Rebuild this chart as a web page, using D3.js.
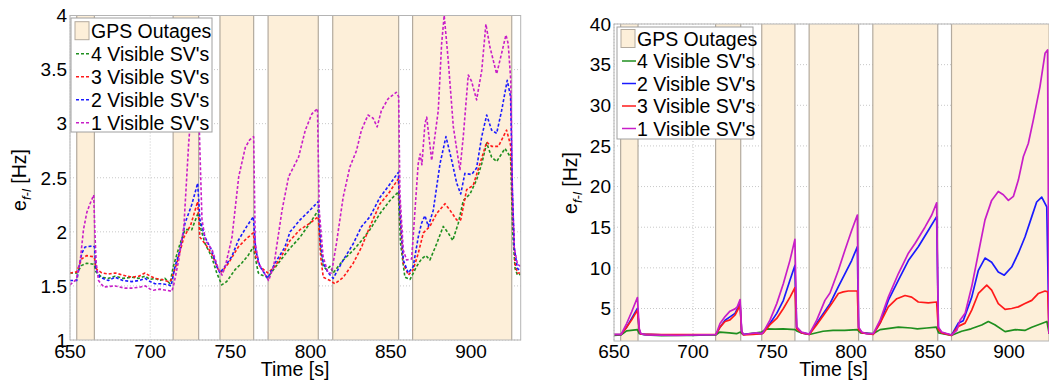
<!DOCTYPE html>
<html>
<head>
<meta charset="utf-8">
<script src="https://cdn.jsdelivr.net/npm/d3@7"></script>
<style>
  body { margin: 0; background: #fff; }
  text { font-family: "Liberation Sans", Arial, Helvetica, sans-serif; fill: #000; }
</style>
</head>
<body>
<div id="chart"></div>
<script>
// GPS outage windows [start, end] in seconds
const outages = [[654.2, 665.2], [714.3, 730.2], [743.5, 764.5], [773.5, 804.8], [813.8, 854.9], [863.6, 925.4]]

const xTicks = [650, 700, 750, 800, 850, 900]
const yTicksLeft = [1, 1.5, 2, 2.5, 3, 3.5, 4]
const yTicksRight = [5, 10, 15, 20, 25, 30, 35, 40]

const outageLabel = "GPS Outages"
const labelsLeft = ["4 Visible SV's", "3 Visible SV's", "2 Visible SV's", "1 Visible SV's"]
const labelsRight = ["4 Visible SV's", "2 Visible SV's", "3 Visible SV's", "1 Visible SV's"]

// left panel, [time, error]
const sv4Left = [[650,1.62],[654.2,1.62],[657.3,1.69],[660.4,1.71],[664.5,1.70],[665.4,1.68],[666.2,1.63],[669.8,1.58],[674,1.57],[678.1,1.59],[683,1.57],[688.5,1.58],[693,1.57],[696.8,1.59],[700,1.56],[703,1.57],[706,1.55],[709.2,1.57],[712.3,1.52],[714.4,1.68],[718.6,1.89],[721.7,2.02],[725.9,2.02],[730,2.18],[731.7,2.02],[734.2,1.89],[738.3,1.77],[741.5,1.62],[744.6,1.51],[747.7,1.54],[752.9,1.65],[757,1.71],[761,1.78],[764.3,1.86],[765.8,1.74],[767.4,1.62],[769.5,1.60],[773.3,1.58],[779.9,1.71],[786.1,1.83],[793.4,1.95],[799.6,2.08],[804.8,2.20],[806.3,1.83],[807.9,1.68],[810,1.65],[812.1,1.68],[814.1,1.62],[820.4,1.74],[826.6,1.83],[831.8,1.92],[837,2.02],[843.3,2.17],[849.5,2.29],[854.7,2.37],[856.1,1.89],[858.8,1.58],[862,1.56],[866.1,1.68],[869.2,1.75],[871.9,1.78],[874.4,1.74],[878.6,1.89],[882.7,2.05],[885.8,1.99],[888.6,1.92],[892.1,2.08],[895.2,2.29],[899.4,2.35],[903.5,2.48],[906.7,2.63],[909.8,2.82],[912.9,2.69],[916,2.65],[921.2,2.77],[924.7,2.69],[926,2.0],[927.5,1.66],[929,1.60],[931,1.61]]
const sv3Left = [[650,1.62],[654.2,1.63],[657.3,1.75],[660.3,1.78],[664.5,1.77],[665.4,1.75],[666.2,1.66],[669.8,1.62],[674,1.61],[678.1,1.62],[683,1.60],[688.5,1.58],[693,1.59],[696.8,1.62],[700,1.59],[703,1.57],[707,1.56],[711.3,1.54],[713,1.55],[716.6,1.71],[721,1.95],[725.2,2.06],[729.6,2.28],[731,1.95],[734.2,1.89],[738.3,1.80],[742.5,1.65],[744.6,1.63],[748.8,1.71],[754.9,1.86],[760.2,1.94],[764.3,1.99],[765.8,1.77],[768.4,1.68],[773.3,1.62],[777.8,1.68],[784,1.83],[787.2,1.92],[793.4,2.02],[799.6,2.08],[804.8,2.14],[806.3,1.77],[807.9,1.58],[812.1,1.55],[815.2,1.52],[820.4,1.58],[826.6,1.71],[831.8,1.86],[837,2.05],[843.3,2.26],[848.4,2.35],[854.7,2.49],[856.2,2.05],[857.8,1.71],[860.9,1.60],[864,1.65],[867.1,1.80],[870.3,1.99],[874.4,2.05],[878.6,2.17],[883.8,2.26],[886.9,2.20],[891.1,2.11],[893.6,2.11],[897.3,2.39],[901.4,2.43],[905.6,2.63],[909.8,2.83],[912.9,2.79],[917.1,2.79],[922.2,2.94],[924.7,2.80],[926,2.2],[927.5,1.70],[929,1.62],[931,1.62]]
const sv2Left = [[650,1.55],[654.2,1.55],[657.3,1.80],[659.4,1.86],[664.5,1.87],[665.3,1.86],[666.2,1.65],[668.7,1.58],[673.9,1.55],[678.1,1.58],[683,1.55],[688.5,1.54],[693,1.55],[696.8,1.57],[700,1.54],[703,1.52],[707,1.52],[711.3,1.51],[713,1.50],[715.5,1.68],[718.6,1.83],[721.7,2.08],[725.9,2.25],[729.6,2.45],[731,2.11],[734.2,1.95],[738.3,1.83],[741.5,1.68],[743.5,1.62],[746.6,1.68],[750.8,1.77],[754.9,1.92],[760.2,2.05],[764.3,2.14],[765.8,1.83],[768.4,1.68],[773.3,1.57],[777.8,1.71],[784,1.86],[787.2,2.00],[793.4,2.11],[799.6,2.20],[804.8,2.28],[806.3,1.89],[807.9,1.71],[811,1.62],[814.1,1.57],[820.4,1.74],[826.6,1.89],[831.8,2.05],[837,2.14],[843.3,2.32],[848.4,2.42],[854.7,2.55],[855.7,2.20],[857.8,1.74],[860.9,1.62],[864,1.68],[867.1,1.95],[869.2,2.08],[871.3,2.15],[873.4,2.05],[876.5,2.20],[880.7,2.63],[884.4,2.88],[888,2.66],[891.1,2.45],[893.6,2.35],[896.2,2.54],[900.4,2.53],[903.5,2.59],[906.7,2.88],[909.8,3.08],[912.9,2.94],[916,2.91],[919.1,3.12],[922.6,3.40],[924.7,3.25],[925.8,2.40],[927,1.85],[929,1.66],[931,1.64]]
const sv1Left = [[650,1.51],[654,1.56],[656.5,1.75],[658.4,2.02],[660.5,2.18],[662.5,2.26],[664.8,2.34],[665.5,2.0],[666.3,1.72],[667.8,1.55],[671,1.49],[678,1.50],[684,1.48],[689,1.48],[694,1.49],[697,1.50],[700,1.47],[702,1.46],[706,1.47],[710,1.46],[713.5,1.45],[714.8,1.52],[717.8,1.74],[721,2.05],[724,2.82],[726,3.2],[728,3.45],[729.8,3.4],[731,2.75],[732.3,2.11],[734.5,1.92],[738.7,1.83],[742.7,1.65],[744.8,1.60],[746.8,1.68],[751,1.95],[755.2,2.51],[759.3,2.78],[762,2.85],[764.5,2.88],[765.5,1.90],[767.6,1.71],[770.7,1.63],[773.8,1.55],[777,1.68],[782.2,2.20],[786.3,2.51],[792.5,2.69],[796.7,2.94],[800.8,3.09],[804.3,3.14],[805.4,2.20],[807.8,1.77],[810.9,1.62],[813,1.62],[816.1,1.89],[820.3,2.32],[824.5,2.60],[828.6,2.75],[831.7,2.94],[835.8,3.08],[839,3.05],[841.5,2.97],[844.1,3.12],[848.3,3.23],[853.4,3.29],[854.9,3.25],[855.7,2.35],[857.8,1.83],[859.9,1.74],[863,1.75],[865.1,2.20],[867.1,2.63],[868.3,2.72],[869.4,2.62],[871.3,3.0],[872.4,3.06],[875.5,2.66],[879.6,3.12],[881.7,3.74],[883.3,4.0],[885.8,3.59],[889,2.97],[893.1,2.57],[895.2,2.88],[898.3,3.45],[900.4,3.39],[903.5,3.22],[906.7,3.49],[909.3,3.92],[911.8,3.71],[916,3.46],[919.1,3.65],[921.8,3.82],[923.2,3.74],[924.8,3.4],[925.8,2.4],[927,1.85],[929,1.70],[931,1.68]]

// right panel, [time, error]
const sv4Right = [[650,1.7],[654.5,1.75],[658,2.25],[664.8,2.4],[666,1.9],[670,1.75],[680,1.65],[690,1.7],[700,1.7],[708,1.75],[714.5,1.75],[717,2.1],[723,2.0],[727.6,1.9],[730,2.1],[731.5,1.8],[736,1.9],[740,2.0],[743.5,2.1],[746.6,2.5],[752,2.45],[757,2.5],[764.6,2.4],[766,2.2],[768.7,2.0],[773.6,1.8],[782.3,2.2],[788.6,2.3],[796,2.3],[804,2.4],[806,2.0],[814,1.9],[818.4,2.4],[830,2.7],[838,2.6],[842,2.5],[848,2.6],[854,2.7],[855.5,2.0],[863.7,1.7],[870,2.2],[876,2.5],[882.7,2.97],[886.9,3.4],[891,3.0],[897.5,2.15],[904,2.4],[910,2.3],[914.4,2.7],[920.7,3.15],[924,3.4],[925.3,2.0],[931,1.8]]
const sv2Right = [[650,1.8],[654.5,1.8],[658,2.7],[661.2,3.77],[664.8,5.0],[666,2.3],[667,1.85],[680,1.75],[700,1.75],[714.5,1.8],[717.1,2.7],[720.3,3.56],[723.4,3.97],[726.6,4.4],[729.8,5.6],[730.8,2.1],[732,1.8],[738,1.9],[743.5,1.9],[744.5,2.1],[748.7,3.15],[753,4.4],[757.2,6.0],[761.4,8.5],[764.5,10.3],[765.6,2.6],[768.7,2.0],[773.6,1.85],[778.3,3.2],[786.7,5.6],[792,7.7],[796.2,9.3],[800.4,10.9],[804,12.6],[804.8,2.6],[807,2.0],[814,1.85],[818.4,3.2],[823.6,6.0],[830,8.5],[836.3,10.9],[842.6,12.6],[848.9,14.6],[854.2,16.3],[855.3,2.6],[857.4,2.0],[863.7,1.74],[867.9,3.2],[871,3.5],[876.4,6.4],[880.6,9.7],[884.8,11.2],[889,10.7],[893.2,9.5],[897,9.1],[901.7,10.1],[905.9,11.8],[910.1,13.8],[914.4,16.3],[917.5,18.1],[920.7,18.7],[923.9,17.5],[925.3,2.0],[931,1.8]]
const sv3Right = [[650,1.8],[654.5,1.8],[658,2.7],[661.2,3.6],[664.8,4.8],[666,2.3],[667,1.85],[680,1.8],[700,1.8],[714.5,1.8],[717.1,2.7],[720.3,3.4],[723.4,3.6],[726.6,4.2],[729.8,5.4],[730.8,2.1],[732,1.75],[738,1.8],[743.5,1.9],[744.5,2.0],[748.7,3.0],[753,3.77],[757.2,5.0],[761.4,6.4],[764.5,7.55],[765.6,2.5],[768.7,2.0],[773.6,1.8],[778.3,3.0],[783.5,4.4],[787.8,5.6],[792,6.85],[795.1,7.05],[798.3,7.15],[804,7.15],[804.8,2.4],[807,2.0],[814,1.8],[818.4,3.2],[823.6,5.2],[829,6.2],[834.2,6.6],[838.4,6.4],[842.6,5.8],[848.9,5.7],[854.2,5.8],[855.3,2.4],[857.4,2.0],[863.7,1.7],[867.9,2.8],[872.2,3.2],[876.4,4.8],[880.6,6.85],[885.9,7.87],[889,7.25],[893.2,5.6],[897.5,4.9],[901.7,5.0],[905.9,5.2],[910.1,5.6],[914.4,6.0],[918.6,6.85],[922.8,7.15],[924.5,7.05],[925.3,2.0],[931,1.8]]
const sv1Right = [[650,1.8],[654.5,1.8],[658,3.15],[661.2,4.6],[664.8,6.35],[666,2.5],[667,1.9],[670,1.75],[690,1.7],[714.5,1.8],[717.1,3.15],[720.3,4.0],[723.4,4.67],[726.6,4.95],[728,5.2],[729.8,6.1],[730.8,2.2],[732,1.8],[740,2.0],[743.5,1.9],[744.5,2.1],[748.7,3.56],[753,5.6],[757.2,8.08],[761.4,10.95],[764.5,13.5],[765.6,2.73],[768.7,2.1],[773.6,1.85],[778.3,3.56],[783.5,6.0],[786.7,6.9],[792,9.7],[796.2,12.2],[800.4,14.6],[804,16.5],[804.8,2.7],[806.8,2.1],[810,1.9],[814.1,1.9],[818.4,3.56],[823.6,6.4],[830,9.3],[836.3,11.8],[840.5,13.0],[846.8,15.0],[851.1,16.5],[854.2,18.0],[855.3,2.7],[857.4,2.1],[863.7,1.74],[866.9,2.3],[869,3.56],[872.2,4.4],[876.4,7.7],[880.6,11.8],[884.8,15.9],[889,18.3],[893.2,19.4],[896.4,19.0],[899.6,18.3],[902.8,18.8],[905.9,20.8],[909.1,23.7],[912.2,25.3],[915.4,28.2],[919.6,32.3],[922.8,36.4],[924.4,36.8],[925.3,2.0],[931,1.8]]

const green = "#1f8f1f", red = "#ff1a1a", blue = "#1a1aff", magenta = "#c81ec8"
const bandFill = "#fdefd9", bandEdge = "#b3aa9e"

let svg = d3.select("#chart")
    .append("svg")
    .attr("width", 1049)
    .attr("height", 381)

function drawPanel(opt) {
    let x = d3.scaleLinear().domain([650, 931]).range([opt.left, opt.right])
    let y = d3.scaleLinear().domain(opt.yDomain).range([opt.bottom, opt.top])
    let g = svg.append("g")

    g.append("clipPath").attr("id", opt.id)
        .append("rect")
        .attr("x", opt.left).attr("y", opt.top)
        .attr("width", opt.right - opt.left).attr("height", opt.bottom - opt.top)

    // dotted grid
    g.selectAll(".vgrid").data(xTicks).enter().append("line")
        .attr("x1", d => x(d)).attr("x2", d => x(d))
        .attr("y1", opt.top).attr("y2", opt.bottom)
        .attr("stroke", "#c8c8c8").attr("stroke-dasharray", "1,2")
    g.selectAll(".hgrid").data(opt.yTicks).enter().append("line")
        .attr("x1", opt.left).attr("x2", opt.right)
        .attr("y1", d => y(d)).attr("y2", d => y(d))
        .attr("stroke", "#c8c8c8").attr("stroke-dasharray", "1,2")

    // outage bands
    let bands = g.append("g").attr("clip-path", `url(#${opt.id})`)
    bands.selectAll("rect").data(outages).enter().append("rect")
        .attr("x", d => x(d[0])).attr("y", opt.top)
        .attr("width", d => x(d[1]) - x(d[0])).attr("height", opt.bottom - opt.top)
        .attr("fill", bandFill)
    bands.selectAll("line").data(outages.flat()).enter().append("line")
        .attr("x1", d => x(d)).attr("x2", d => x(d))
        .attr("y1", opt.top).attr("y2", opt.bottom)
        .attr("stroke", bandEdge).attr("stroke-width", 1.2)

    let line = d3.line().x(d => x(d[0])).y(d => y(d[1]))
    let lines = g.append("g").attr("clip-path", `url(#${opt.id})`)
    opt.series.forEach(s => {
        lines.append("path")
            .attr("d", line(s.data))
            .attr("fill", "none")
            .attr("stroke", s.color)
            .attr("stroke-width", opt.dashed ? 1.6 : 1.7)
            .attr("stroke-dasharray", opt.dashed ? "3,2" : null)
            .attr("stroke-linejoin", "round")
    })

    // axes box
    g.append("rect")
        .attr("x", opt.left).attr("y", opt.top)
        .attr("width", opt.right - opt.left).attr("height", opt.bottom - opt.top)
        .attr("fill", "none").attr("stroke", "#b4b4b4")

    g.selectAll(".xt").data(xTicks).enter().append("text")
        .attr("x", d => x(d)).attr("y", 358)
        .attr("text-anchor", "middle").style("font-size", "19px")
        .text(d => d)
    g.selectAll(".yt").data(opt.yTicks).enter().append("text")
        .attr("x", opt.left - 3).attr("y", d => y(d) + 6.8)
        .attr("text-anchor", "end").style("font-size", "19px")
        .text(d => d)

    g.append("text")
        .attr("x", opt.xLabelX).attr("y", 376)
        .attr("text-anchor", "middle").style("font-size", "19.5px")
        .text("Time [s]")

    let yl = g.append("text")
        .attr("transform", `translate(${opt.yLabelX},${opt.yLabelY}) rotate(-90)`)
        .attr("text-anchor", "middle").style("font-size", "19.5px")
    yl.append("tspan").text("e")
    yl.append("tspan").attr("dy", 5).style("font-size", "13px").style("font-style", "italic").text("f-l")
    yl.append("tspan").attr("dy", -5).text(" [Hz]")

    // legend
    let lg = opt.legend
    g.append("rect")
        .attr("x", lg.x).attr("y", lg.y).attr("width", lg.w).attr("height", lg.h)
        .attr("fill", "#fff").attr("stroke", "#a0a0a0")
    let rowY = i => lg.y + lg.first + i * lg.step
    g.append("rect")
        .attr("x", lg.x + 4).attr("y", rowY(0) - 9).attr("width", 14).attr("height", 18)
        .attr("fill", bandFill).attr("stroke", bandEdge)
    g.append("text")
        .attr("x", lg.x + 20).attr("y", rowY(0) + 7)
        .style("font-size", "19.5px").text(outageLabel)
    opt.series.forEach((s, i) => {
        g.append("line")
            .attr("x1", lg.x + 5).attr("x2", lg.x + 19)
            .attr("y1", rowY(i + 1)).attr("y2", rowY(i + 1))
            .attr("stroke", s.color).attr("stroke-width", 1.5)
            .attr("stroke-dasharray", opt.dashed ? "3,2" : null)
        g.append("text")
            .attr("x", lg.x + 20).attr("y", rowY(i + 1) + 7)
            .style("font-size", "19.5px").text(s.label)
    })
}

drawPanel({
    id: "clipL", left: 70, right: 520.7, top: 15.5, bottom: 340,
    yDomain: [1, 4], yTicks: yTicksLeft, dashed: true,
    xLabelX: 295, yLabelX: 26, yLabelY: 180,
    series: [
        {data: sv4Left, color: green, label: labelsLeft[0]},
        {data: sv3Left, color: red, label: labelsLeft[1]},
        {data: sv2Left, color: blue, label: labelsLeft[2]},
        {data: sv1Left, color: magenta, label: labelsLeft[3]}
    ],
    legend: {x: 71, y: 18, w: 141, h: 114, first: 12.7, step: 23}
})

drawPanel({
    id: "clipR", left: 614, right: 1058, top: 24, bottom: 341,
    yDomain: [1, 40], yTicks: yTicksRight, dashed: false,
    xLabelX: 833.5, yLabelX: 577, yLabelY: 183,
    series: [
        {data: sv4Right, color: green, label: labelsRight[0]},
        {data: sv2Right, color: blue, label: labelsRight[1]},
        {data: sv3Right, color: red, label: labelsRight[2]},
        {data: sv1Right, color: magenta, label: labelsRight[3]}
    ],
    legend: {x: 617, y: 27, w: 136, h: 112, first: 11.5, step: 22.5}
})
</script>
</body>
</html>
